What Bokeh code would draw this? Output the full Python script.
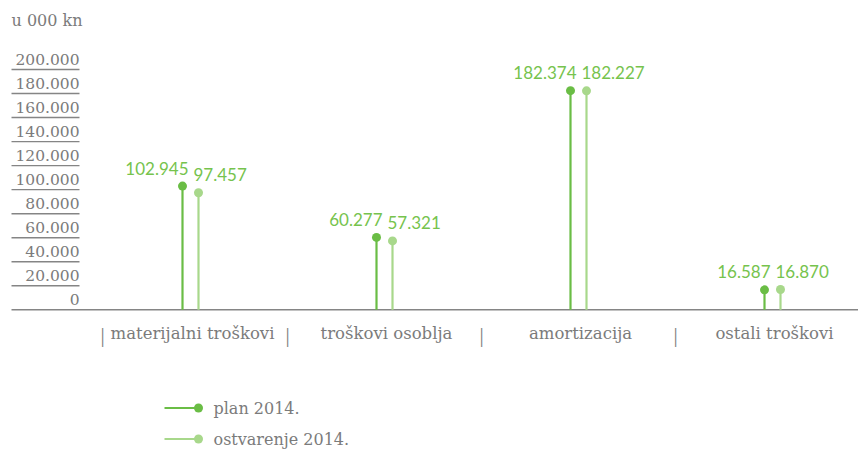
from bokeh.plotting import figure
from bokeh.models import Range1d
from bokeh.core.properties import value
from bokeh.embed import file_html
from bokeh.resources import INLINE

# ---- data ----
categories = ["materijalni troškovi", "troškovi osoblja", "amortizacija", "ostali troškovi"]
plan = [102945, 60277, 182374, 16587]
ostvarenje = [97457, 57321, 182227, 16870]
y_ticks = [0, 20000, 40000, 60000, 80000, 100000, 120000, 140000, 160000, 180000, 200000]
unit_label = "u 000 kn"
series_names = ["plan 2014.", "ostvarenje 2014."]


def fmt(v):
    return f"{v:,}".replace(",", ".")


# ---- layout helpers (page pixel -> data) ----
W, H = 858, 449
X0PX, XS = 190.0, 194.0            # px of category 0 centre, px per category
Y0PX, YS = 309.3, 0.0012015         # px of zero, px per unit value


def xd(px):
    return (px - X0PX) / XS


def yd(py):
    return (Y0PX - py) / YS


PLAN_C = "#6abd45"
OSTV_C = "#a8d88b"
LABEL_C = "#76c34d"
GRAY = "#7b7b7b"
LINE_GRAY = "#858585"
SERIF = value("DejaVu Serif")
SANS = value("Lato")

p = figure(width=W, height=H, output_backend="svg", toolbar_location=None,
           x_range=Range1d(xd(0), xd(W)), y_range=Range1d(yd(H), yd(0)),
           x_axis_type=None, y_axis_type=None, min_border=0)
p.grid.visible = False
p.outline_line_color = None
p.background_fill_color = "white"

off = 8.0 / XS
idx = list(range(len(categories)))
xp = [i - off for i in idx]
xo = [i + off for i in idx]

# baseline
p.segment(x0=[xd(11)], y0=[0], x1=[xd(858)], y1=[0], line_color=LINE_GRAY, line_width=1.6)

# y tick underlines and labels
p.segment(x0=[xd(11)] * (len(y_ticks) - 1), y0=y_ticks[1:], x1=[xd(79)] * (len(y_ticks) - 1),
          y1=y_ticks[1:], line_color=LINE_GRAY, line_width=1.4)
p.text(x=[xd(79)] * len(y_ticks), y=y_ticks, text=[fmt(t) for t in y_ticks],
       text_align="right", text_baseline="middle", y_offset=-10,
       text_font=SERIF, text_font_size="15.5px", text_color=GRAY)

# unit label
p.text(x=[xd(11)], y=[yd(20)], text=[unit_label], text_align="left", text_baseline="middle",
       text_font=SERIF, text_font_size="16px", text_color=GRAY)

# stems
p.segment(x0=xp, y0=[0] * 4, x1=xp, y1=plan, line_color=PLAN_C, line_width=2.2)
p.segment(x0=xo, y0=[0] * 4, x1=xo, y1=ostvarenje, line_color=OSTV_C, line_width=2.2)
p.scatter(x=xp, y=plan, size=9, fill_color=PLAN_C, line_color=None)
p.scatter(x=xo, y=ostvarenje, size=9, fill_color=OSTV_C, line_color=None)

# value labels
p.text(x=xp, y=plan, text=[fmt(v) for v in plan], text_align="right", text_baseline="middle",
       x_offset=6, y_offset=-18, text_font=SANS, text_font_size="17px", text_color=LABEL_C)
p.text(x=xo, y=ostvarenje, text=[fmt(v) for v in ostvarenje], text_align="left",
       text_baseline="middle", x_offset=-5, y_offset=-18, text_font=SANS,
       text_font_size="17px", text_color=LABEL_C)

# category labels and separators
p.text(x=idx, y=[yd(333)] * 4, text=categories, text_align="center", text_baseline="middle",
       x_offset=2, text_font=SERIF, text_font_size="16.5px", text_color=GRAY)
sep_x = [xd(102)] + [i + 0.5 for i in idx[:-1]]
p.text(x=sep_x, y=[yd(334)] * len(sep_x), text=["|"] * len(sep_x), text_align="center",
       text_baseline="middle", text_font=value("Liberation Serif"), text_font_size="21px",
       text_color=GRAY)

# legend (manual)
for k, (name, col) in enumerate(zip(series_names, [PLAN_C, OSTV_C])):
    ly = yd(407.5 + 31 * k)
    p.segment(x0=[xd(164)], y0=[ly], x1=[xd(197)], y1=[ly], line_color=col, line_width=2.2)
    p.scatter(x=[xd(198)], y=[ly], size=9, fill_color=col, line_color=None)
    p.text(x=[xd(213)], y=[ly], text=[name], text_align="left", text_baseline="middle",
           text_font=SERIF, text_font_size="16px", text_color=GRAY)

open("out.html", "w").write(file_html(p, INLINE))
